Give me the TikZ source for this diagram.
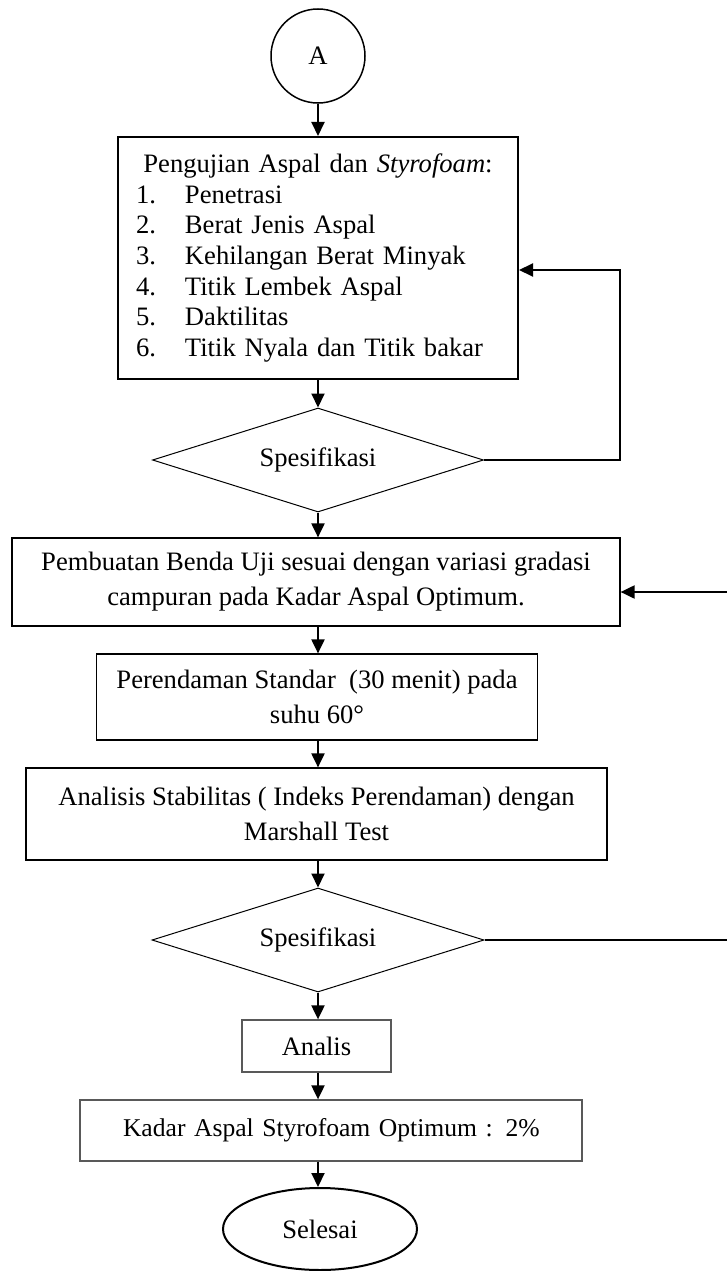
\documentclass[tikz,border=0pt]{standalone}
\usepackage{fontspec}
\setmainfont{Liberation Serif}
\usetikzlibrary{arrows.meta,shapes.geometric}

\begin{document}
\begin{tikzpicture}[x=1pt,y=-1pt,
  every node/.style={font=\fontsize{26.6pt}{35pt}\selectfont, inner sep=0pt, text=black},
  arr/.style={line width=2pt, -{Triangle[width=13pt,length=14pt]}},
  procbox/.style={draw, rectangle, line width=1.2pt, align=center},
  greybox/.style={draw=black!65, rectangle, line width=1.3pt},
  decision/.style={draw, diamond, aspect=3.2, line width=1pt},
]
\useasboundingbox (0,0) rectangle (727,1271);

% start connector and the list of asphalt tests
\node[draw, circle, line width=1.5pt, minimum size=94pt] (A) at (318,56) {A};
\node[draw, rectangle, line width=2pt, minimum width=400pt, minimum height=242pt,
      text width=364pt, align=left, font=\fontsize{26.6pt}{30.67pt}\selectfont] (uji) at (318,258)
  {\makebox[364pt][c]{Pengujian Aspal dan \textit{Styrofoam}:}\\
   \makebox[49pt][l]{1.}Penetrasi\\
   \makebox[49pt][l]{2.}Berat Jenis Aspal\\
   \makebox[49pt][l]{3.}Kehilangan Berat Minyak\\
   \makebox[49pt][l]{4.}Titik Lembek Aspal\\
   \makebox[49pt][l]{5.}Daktilitas\\
   \makebox[49pt][l]{6.}Titik Nyala dan Titik bakar};

\node[decision, minimum width=331pt, minimum height=104pt] (spec1) at (318,460) {Spesifikasi};

% specimen preparation and testing
\node[procbox, minimum width=608pt, minimum height=88pt] (buat) at (316,582)
  {Pembuatan Benda Uji sesuai dengan variasi gradasi\\campuran pada Kadar Aspal Optimum.};
\node[procbox, minimum width=441pt, minimum height=86pt] (rend) at (317,697)
  {Perendaman Standar\ \ (30 menit) pada\\suhu 60°};
\node[procbox, minimum width=581pt, minimum height=92pt] (anal) at (316.5,814)
  {Analisis Stabilitas ( Indeks Perendaman) dengan\\Marshall Test};

\node[decision, minimum width=332pt, minimum height=104pt] (spec2) at (318,940) {Spesifikasi};

% results
\node[greybox, minimum width=149pt, minimum height=52pt] (analis) at (316.5,1046) {Analis};
\node[greybox, minimum height=61pt, text width=502pt, align=left,
      font=\fontsize{25.6pt}{30pt}\selectfont] (kadar) at (331,1130.5)
  {\hspace*{43pt}Kadar Aspal Styrofoam Optimum : 2\%};
\node[draw, ellipse, line width=2pt, minimum width=194pt, minimum height=82pt] (selesai) at (320,1229) {Selesai};

% main flow
\draw[arr] (A.south) -- (A.south |- uji.north);
\draw[arr] (uji.south) -- (uji.south |- spec1.north);
\draw[arr] (spec1.south) -- (spec1.south |- buat.north);
\draw[arr] (spec1.south |- buat.south) -- (spec1.south |- rend.north);
\draw[arr] (spec1.south |- rend.south) -- (spec1.south |- anal.north);
\draw[arr] (spec1.south |- anal.south) -- (spec2.north);
\draw[arr] (spec2.south) -- (spec2.south |- analis.north);
\draw[arr] (spec2.south |- analis.south) -- (spec2.south |- kadar.north);
\draw[arr] (spec2.south |- kadar.south) -- (spec2.south |- selesai.north);

% feedback loops
\draw[arr] (spec1.east) -- (620,460) -- (620,270) -- (uji.east |- 0,270);
\draw[arr] (spec2.east) -- (731,940) -- (731,592) -- (buat.east |- 0,592);
\end{tikzpicture}
\end{document}
